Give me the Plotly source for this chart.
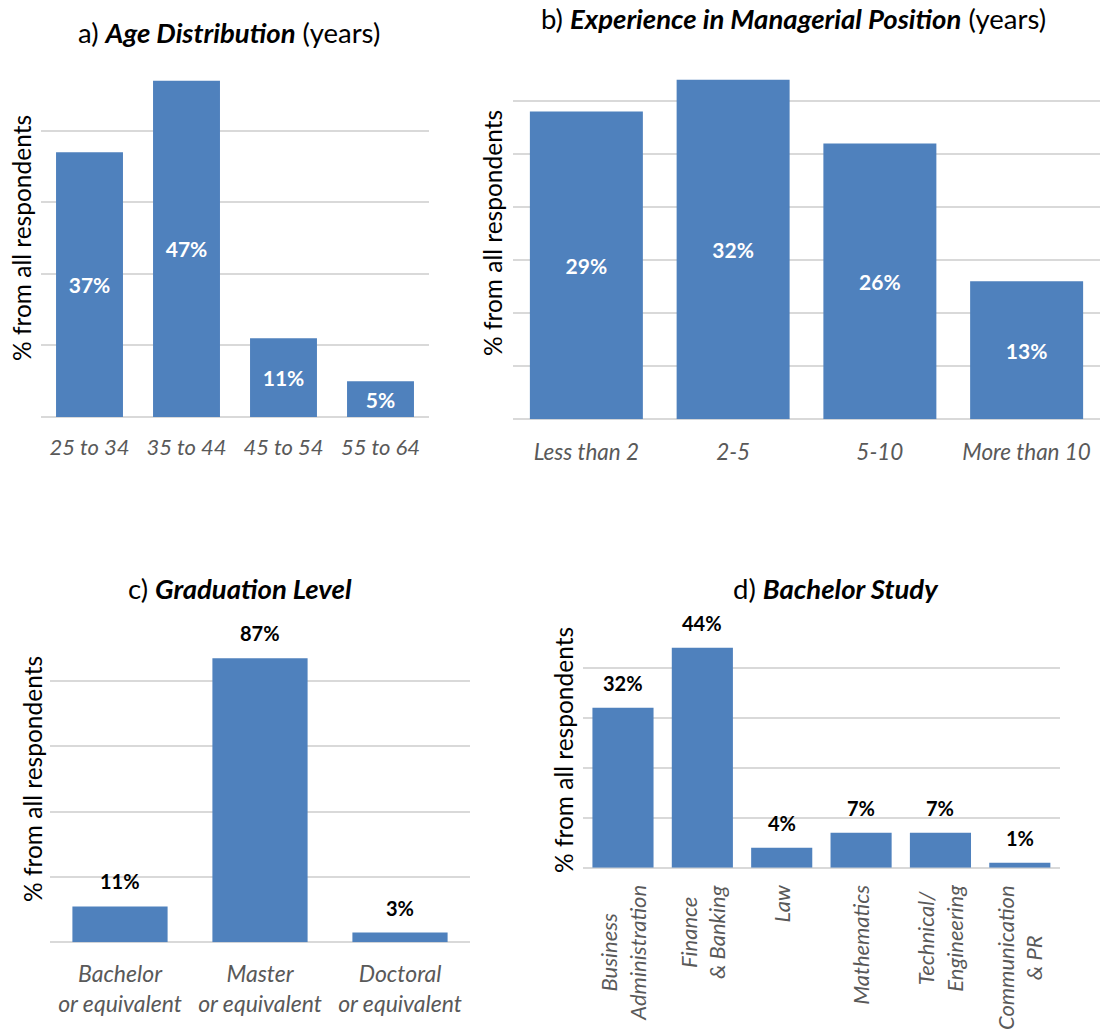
import plotly.graph_objects as go

# ---- survey data (share of all respondents, %) ----
age_groups = ["25 to 34", "35 to 44", "45 to 54", "55 to 64"]
age_share = [37, 47, 11, 5]

experience_groups = ["Less than 2", "2-5", "5-10", "More than 10"]
experience_share = [29, 32, 26, 13]

graduation_levels = ["Bachelor<br>or equivalent", "Master<br>or equivalent", "Doctoral<br>or equivalent"]
graduation_share = [11, 87, 3]

bachelor_fields = ["Business<br>Administration", "Finance<br>& Banking", "Law",
                   "Mathematics", "Technical/<br>Engineering", "Communication<br>& PR"]
bachelor_share = [32, 44, 4, 7, 7, 1]

# ---- styling ----
W, H = 1101, 1035
FONT = "Lato"
BLUE = "#4F81BD"
GRID = "#D9D9D9"
TICK_GREY = "#595959"
Y_TITLE = "% from all respondents"


def xdom(left, right):
    return [left / W, right / W]


def ydom(top, bottom):
    return [1 - bottom / H, 1 - top / H]


fig = go.Figure()

# panel layout: axis suffix, plot box in pixels, y range, grid step, bar width,
# tick-label size and distance
panels = {
    "a": dict(ax="", box=(41, 429, 59, 417), yr=50, dt=10, bw=0.69, ts=22, so=15),
    "b": dict(ax="2", box=(513, 1100, 47.7, 419.3), yr=35, dt=5, bw=0.77, ts=22.5, so=17),
    "c": dict(ax="3", box=(50, 470, 615.7, 942.3), yr=100, dt=20, bw=0.68, ts=23, so=16),
    "d": dict(ax="4", box=(583.3, 1059.5, 617.7, 867.7), yr=50, dt=10, bw=0.77, ts=22, so=0),
}

series = {
    "a": (age_groups, age_share),
    "b": (experience_groups, experience_share),
    "c": (graduation_levels, graduation_share),
    "d": (bachelor_fields, bachelor_share),
}

layout_axes = {}
annotations = []

for key, p in panels.items():
    cats, vals = series[key]
    ax = p["ax"]
    inside = key in ("a", "b")
    fig.add_trace(go.Bar(
        x=cats, y=vals,
        xaxis="x" + ax, yaxis="y" + ax,
        width=p["bw"],
        marker=dict(color=BLUE, line=dict(width=0)),
        text=[f"{v}%" for v in vals] if inside else None,
        textposition="inside" if inside else "none",
        insidetextanchor="middle",
        textangle=0,
        textfont=dict(family=FONT, size=21, color="white", weight="bold"),
        showlegend=False,
        hoverinfo="x+y",
    ))
    x0, x1, y0, y1 = p["box"]
    layout_axes["xaxis" + ax] = dict(
        domain=xdom(x0, x1), anchor="y" + ax,
        showgrid=False, zeroline=False, showline=False, ticks="",
        showticklabels=(key != "d"),
        tickfont=dict(family=FONT, size=p["ts"], color=TICK_GREY, style="italic"),
        ticklabelstandoff=p["so"],
        fixedrange=True,
    )
    layout_axes["yaxis" + ax] = dict(
        domain=ydom(y0, y1), anchor="x" + ax,
        range=[0, p["yr"] * 1.0005], dtick=p["dt"], tick0=0,
        showgrid=True, gridcolor=GRID, gridwidth=1.6,
        zeroline=True, zerolinecolor=GRID, zerolinewidth=2,
        showticklabels=False, ticks="", showline=False,
        fixedrange=True,
    )
    # value labels above the bars for the lower panels
    if not inside:
        for c, v in zip(cats, vals):
            annotations.append(dict(
                x=c, y=v, xref="x" + ax, yref="y" + ax,
                text=f"<b>{v}%</b>", showarrow=False,
                yanchor="middle", yshift=25,
                font=dict(family=FONT, size=20, color="black"),
            ))

# rotated category labels under the bachelor-study bars
for c in bachelor_fields:
    annotations.append(dict(
        x=c, y=0, xref="x4", yref="y4",
        text=f"<i>{c}</i>", showarrow=False, textangle=-90,
        xanchor="center", yanchor="top", yshift=-15, align="center",
        font=dict(family=FONT, size=panels["d"]["ts"], color=TICK_GREY),
    ))

# panel titles
titles = [
    ("a) <b><i>Age Distribution</i></b> (years)", 229, 33),
    ("b) <b><i>Experience in Managerial Position</i></b> (years)", 793, 18),
    ("c) <b><i>Graduation Level</i></b>", 240, 588),
    ("d) <b><i>Bachelor Study</i></b>", 836, 588),
]
for txt, cx, cy in titles:
    annotations.append(dict(
        x=cx / W, y=1 - cy / H, xref="paper", yref="paper",
        text=txt, showarrow=False, xanchor="center", yanchor="middle",
        font=dict(family=FONT, size=27.5, color="black"),
    ))

# vertical axis titles
for cx, cy in [(22, 238), (493, 233), (32, 779), (563, 750)]:
    annotations.append(dict(
        x=cx / W, y=1 - cy / H, xref="paper", yref="paper",
        text=Y_TITLE, showarrow=False, textangle=-90,
        xanchor="center", yanchor="middle",
        font=dict(family=FONT, size=24.5, color="black"),
    ))

fig.update_layout(
    width=W, height=H,
    margin=dict(l=0, r=0, t=0, b=0),
    paper_bgcolor="white", plot_bgcolor="white",
    font=dict(family=FONT),
    annotations=annotations,
    uniformtext=dict(mode=False),
    **layout_axes,
)

fig.write_html("out.html")
